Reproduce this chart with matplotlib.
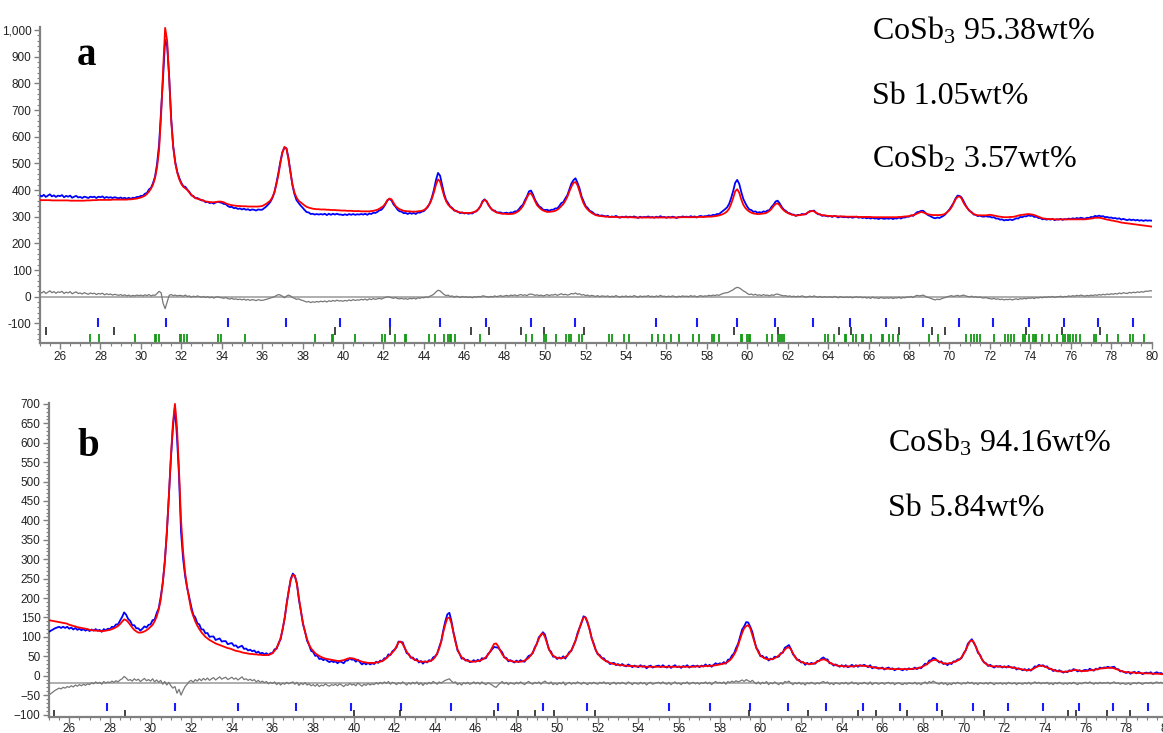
import numpy as np
import matplotlib
matplotlib.use("Agg")
import matplotlib.pyplot as plt
from matplotlib.ticker import MultipleLocator, FuncFormatter

# ---------------- DATA ----------------
# 2-theta grid (deg), 25.0 ... 80.0 in 0.1 steps
two_theta = np.round(np.arange(250, 801) / 10.0, 1)

# Panel a: calculated profile (red)
calc_a = [
 362,362,362,362,362,362,361,361,361,361,
 361,361,361,361,361,360,360,360,360,360,
 360,360,360,361,361,361,362,362,362,363,
 363,363,363,363,363,363,364,364,364,364,
 364,364,364,364,365,365,366,367,368,370,
 372,375,379,385,394,405,420,445,485,550,
 680,850,1008,960,820,660,560,500,465,440,
 423,412,406,400,390,382,375,370,367,365,
 363,360,357,356,355,354,354,355,356,357,
 356,354,350,347,345,343,342,341,340,340,
 339,339,339,338,338,338,338,338,338,339,
 340,344,348,354,360,372,390,420,455,500,
 540,562,555,515,465,420,390,372,360,354,
 348,342,337,334,332,330,329,328,328,327,
 327,327,326,326,325,325,325,324,324,323,
 323,323,322,322,322,321,321,321,321,320,
 320,320,320,320,321,322,324,326,330,335,
 340,350,362,368,365,352,340,333,328,325,
 322,321,320,320,319,319,319,320,321,322,
 325,330,340,350,368,392,420,440,432,405,
 378,358,345,337,330,325,320,318,316,315,
 314,314,314,314,316,318,322,328,340,355,
 363,358,345,332,325,320,316,314,312,311,
 311,310,310,310,311,313,317,322,330,340,
 355,372,386,388,375,358,343,335,328,323,
 320,318,318,319,320,322,326,332,340,348,
 360,375,395,413,427,430,418,395,370,350,
 336,327,320,314,310,306,304,303,302,301,
 300,300,299,299,299,299,298,298,298,298,
 298,298,298,298,297,297,297,297,297,297,
 297,297,297,297,297,297,297,297,297,297,
 297,297,297,297,297,297,297,298,298,298,
 298,298,298,298,298,298,299,299,299,299,
 300,300,300,301,302,303,305,307,310,314,
 320,330,348,370,395,403,390,365,345,333,
 325,319,315,312,311,310,310,311,312,313,
 317,322,330,340,348,350,343,332,324,318,
 314,310,308,306,304,305,306,307,308,311,
 316,319,322,320,315,311,308,306,305,304,
 303,303,302,302,302,301,301,301,301,300,
 300,300,300,300,300,299,299,299,299,299,
 299,299,298,298,298,298,298,298,298,298,
 298,298,298,298,298,299,299,300,301,301,
 302,304,306,308,312,315,318,316,313,310,
 308,307,306,306,306,306,307,308,312,318,
 325,335,350,365,374,376,368,352,340,330,
 322,315,310,307,305,305,305,305,305,306,
 307,306,304,303,301,300,299,298,298,298,
 299,299,300,302,304,306,307,308,309,310,
 309,308,306,303,300,297,294,293,292,291,
 291,291,290,290,290,290,290,290,290,290,
 290,290,290,290,290,290,290,290,291,292,
 293,294,296,296,296,295,293,291,289,288,
 286,285,283,282,280,278,277,276,275,274,
 273,272,271,270,269,268,267,266,265,264,
 263,
]

# Panel a: residual (observed - calculated), grey curve
resid_a = [
 18,14,20,12,17,22,15,19,13,18,
 16,20,12,17,14,19,11,15,18,12,
 14,10,15,12,9,14,11,13,8,12,
 10,13,7,11,8,10,6,9,7,5,
 8,4,7,3,6,2,5,3,6,4,
 6,3,7,4,8,3,6,5,12,20,
 15,-25,-45,-20,5,8,4,6,3,5,
 4,2,6,1,3,-2,2,-1,3,0,
 -2,1,-3,0,-4,-1,-5,-2,0,-3,
 -4,-6,-3,-7,-9,-6,-10,-8,-11,-9,
 -12,-9,-13,-10,-14,-11,-12,-15,-11,-13,
 -14,-12,-10,-8,-5,-3,0,4,8,6,
 2,-4,2,6,3,-3,-6,-10,-8,-12,
 -14,-17,-20,-18,-22,-19,-21,-18,-20,-17,
 -19,-16,-20,-15,-18,-14,-17,-13,-16,-15,
 -17,-14,-16,-12,-15,-11,-14,-12,-13,-10,
 -12,-9,-13,-8,-11,-7,-10,-8,-6,-9,
 -5,-3,0,-2,-4,-6,-3,-7,-8,-6,
 -9,-7,-10,-6,-8,-5,-9,-4,-6,-3,
 -4,-1,-3,2,5,10,18,24,22,15,
 8,4,6,1,3,-2,2,0,-3,1,
 -2,0,-3,-1,-4,0,-2,1,-1,3,
 2,0,-2,1,-1,3,0,2,4,1,
 3,5,2,6,4,7,3,6,8,5,
 7,4,9,10,8,5,7,4,6,3,
 5,8,4,7,6,9,5,8,11,7,
 9,6,8,12,10,14,9,11,6,8,
 4,6,2,5,3,1,4,0,3,2,
 1,3,-1,2,0,4,1,-2,2,0,
 3,-1,2,0,4,1,-2,3,0,2,
 1,4,0,2,-1,3,0,5,1,2,
 -1,2,0,3,1,-2,2,0,3,1,
 2,0,4,1,3,-1,2,4,1,3,
 2,5,3,6,4,7,5,9,12,14,
 15,18,22,26,32,35,33,28,22,18,
 12,8,10,6,9,5,7,4,8,5,
 6,3,7,5,9,10,7,5,3,4,
 1,3,0,2,-1,2,0,3,1,-2,
 0,2,-1,3,0,-2,1,-3,0,-1,
 -2,0,-3,1,-1,-4,0,-2,-3,-1,
 -3,-1,-4,-2,0,-3,-1,-4,-2,-5,
 -3,-6,-2,-5,-4,-7,-3,-5,-6,-4,
 -6,-3,-7,-4,-5,-2,-6,-3,-4,-1,
 -2,1,-3,2,5,3,4,6,2,-2,
 -4,-7,-10,-12,-9,-11,-8,-5,-3,0,
 2,4,1,3,5,2,4,6,3,1,
 -1,2,-2,0,-3,-1,-4,-5,-3,-6,
 -7,-9,-6,-10,-8,-11,-9,-12,-10,-11,
 -9,-12,-10,-8,-11,-7,-9,-6,-8,-5,
 -6,-4,-7,-3,-5,-2,-4,-1,-3,0,
 -2,1,-3,0,-1,2,-2,1,0,3,
 1,4,2,5,3,6,4,2,5,3,
 6,4,7,5,8,6,9,7,10,8,
 11,9,12,10,14,11,15,13,12,16,
 14,17,15,18,16,19,17,21,20,22,
 22,
]

# Panel b: calculated profile (red)
calc_b = [
 143,142,141,140,139,138,137,136,135,134,
 131,130,128,127,125,124,123,122,121,120,
 118,117,117,116,116,115,115,115,116,117,
 118,120,122,125,128,133,139,145,143,138,
 131,124,118,114,111,111,112,114,117,121,
 126,131,140,152,170,195,240,290,370,460,
 564,650,700,640,530,400,320,265,228,198,
 170,154,140,129,120,112,106,100,96,92,
 89,86,83,81,79,77,75,73,71,70,
 68,66,64,63,62,60,59,58,57,56,
 56,55,55,54,54,53,53,53,54,55,
 58,64,72,82,98,120,150,185,220,248,
 259,258,235,200,165,135,112,94,80,70,
 64,58,54,51,48,46,44,43,42,41,
 40,39,38,38,39,40,42,44,45,45,
 44,42,40,38,36,35,34,33,33,33,
 33,34,35,36,38,41,45,50,55,60,
 66,76,86,88,82,72,62,54,48,44,
 41,39,37,36,36,36,36,37,39,42,
 48,58,70,88,112,132,148,150,135,110,
 86,68,56,48,43,40,38,37,36,36,
 37,38,39,41,44,48,54,62,72,82,
 83,76,65,55,48,43,40,38,37,36,
 36,36,36,37,39,42,46,52,60,70,
 82,95,106,109,100,84,68,58,52,48,
 46,45,45,46,48,52,58,66,76,90,
 105,122,138,150,150,138,118,97,80,66,
 57,50,45,41,38,35,33,31,30,29,
 28,27,27,26,26,25,25,25,24,24,
 24,24,24,23,23,23,23,23,23,23,
 23,23,23,23,23,23,23,23,23,23,
 23,23,23,23,23,23,23,23,24,24,
 24,24,24,25,25,25,26,26,27,28,
 29,30,31,33,36,40,46,54,64,78,
 94,110,122,128,130,122,105,88,72,60,
 52,48,45,43,42,42,43,45,48,52,
 56,61,67,72,73,68,58,48,42,38,
 36,34,32,31,30,30,31,33,36,39,
 41,42,41,38,34,31,29,27,26,25,
 25,24,24,24,24,24,24,25,26,26,
 26,25,25,24,23,22,21,20,20,19,
 19,18,18,18,18,17,17,17,17,17,
 17,17,17,17,17,18,18,19,20,22,
 24,27,30,34,38,40,41,39,36,34,
 32,31,31,32,33,35,37,39,42,48,
 56,66,78,88,91,86,74,62,52,42,
 35,30,27,25,24,24,24,24,23,23,
 23,23,22,22,21,20,19,18,17,16,
 15,14,14,15,17,20,23,25,26,25,
 23,21,19,17,15,13,12,11,11,10,
 10,11,12,13,14,15,14,13,12,12,
 12,13,14,14,15,16,17,18,19,19,
 20,20,21,20,19,17,15,13,11,10,
 9,9,8,8,8,7,7,7,6,6,
 6,6,6,5,5,5,5,4,4,4,
 3,
]

# Panel b: residual (observed - calculated)
resid_b = [
 -30,-26,-22,-18,-15,-12,-14,-10,-12,-8,
 -10,-6,-9,-4,-7,-3,-6,-2,-5,-1,
 -3,2,-1,4,0,3,-2,5,1,4,
 2,6,3,7,4,9,12,18,14,8,
 10,6,12,8,11,5,9,13,7,10,
 6,12,4,9,3,8,-2,5,-4,3,
 -6,-12,-8,-25,-15,-30,-18,-8,-2,5,
 8,3,10,6,12,7,13,9,14,8,
 12,15,9,13,17,11,14,16,10,13,
 16,11,14,9,13,17,10,12,8,11,
 7,10,4,8,3,6,2,5,-1,3,
 0,4,-3,2,-4,1,-2,3,-1,2,
 4,-2,3,-5,1,-3,2,-4,-1,-6,
 -3,-7,-2,-8,-4,-6,-1,-5,-7,-3,
 -5,-2,-6,-1,-4,-8,-3,-5,0,-4,
 -2,-6,1,-3,-7,-2,-5,0,-4,-1,
 -3,2,-2,3,-1,4,0,5,-2,3,
 1,-3,2,-1,4,0,-4,2,-2,3,
 -1,4,-3,2,-5,1,-2,3,-1,5,
 2,-2,4,1,5,8,10,12,6,2,
 4,-3,1,-4,2,-1,3,-2,0,4,
 -1,3,-2,4,0,-3,2,-1,-4,-8,
 -10,-4,1,5,-1,3,-3,2,0,-2,
 3,-1,4,0,-3,2,5,1,-2,3,
 0,4,-2,3,6,2,-1,4,-3,1,
 -3,2,-1,4,-4,0,3,-2,2,-1,
 4,1,-2,3,0,-3,2,-1,3,0,
 -2,3,0,4,-1,2,-3,1,3,-2,
 2,-1,3,0,-2,4,1,-3,2,0,
 -2,3,-1,2,-4,1,3,-2,0,2,
 3,-1,4,0,-2,3,-3,1,4,-1,
 1,-3,2,0,4,-2,1,3,-1,2,
 -2,2,0,4,-1,3,-3,2,5,1,
 3,0,4,-2,5,2,6,3,7,4,
 6,9,5,10,7,4,8,3,-1,4,
 -2,3,0,5,-3,2,-1,4,0,-3,
 2,-2,5,3,6,1,-3,2,-1,3,
 -2,1,-4,2,-1,3,0,-2,2,-1,
 3,5,1,4,-2,1,-3,2,0,-2,
 2,-1,3,-2,0,4,-1,2,-3,1,
 -1,3,0,-2,4,-3,1,2,-2,0,
 2,-2,1,3,-1,2,-3,0,2,-1,
 -3,1,-2,2,0,-1,3,-2,1,-3,
 1,4,-1,5,2,6,3,0,-2,3,
 -2,1,-4,0,-3,2,-1,3,0,-2,
 2,-1,4,0,3,-2,1,-3,2,0,
 -1,2,-2,3,0,-3,1,-1,2,-2,
 1,-2,3,0,-1,2,-3,1,0,-2,
 2,-1,3,-2,1,4,0,3,-1,2,
 0,3,-2,1,-3,2,-1,3,0,-2,
 1,-2,2,-1,3,0,-3,1,-1,2,
 3,0,4,1,-2,2,-1,3,0,2,
 1,3,-1,2,4,0,2,-2,1,-1,
 -2,1,-3,0,2,-1,3,0,-2,1,
 2,0,3,-1,2,4,1,3,0,2,
 2,
]

# Reflection positions (2-theta)
refl_cosb3 = [27.88, 31.22, 34.30, 37.17, 39.84, 42.33, 44.78, 47.07, 49.30, 51.47,
              55.50, 57.51, 59.47, 61.37, 63.23, 65.06, 66.88, 68.68, 70.45, 72.17,
              73.92, 75.66, 77.35, 79.06]
refl_sb_a = [25.31, 28.68, 39.58, 42.33, 46.33, 47.20, 48.80, 49.95, 51.92, 59.32,
             61.50, 64.52, 65.15, 67.50, 69.13, 69.80, 73.80, 75.58, 77.45]
refl_cosb2_a = [27.48, 27.92, 29.73, 30.72, 30.77, 30.90, 31.92, 31.98, 32.15, 32.28,
                33.82, 33.98, 35.15, 38.62, 39.44, 39.49, 40.61, 41.93, 42.08, 42.57,
                43.05, 43.13, 44.23, 44.55, 45.02, 45.18, 45.27, 45.33, 45.56, 46.79,
                49.03, 49.35, 49.93, 50.02, 50.55, 51.01, 51.16, 51.26, 51.68, 51.83,
                53.18, 53.33, 53.88, 54.14, 55.27, 55.59, 55.88, 56.23, 56.63, 57.33,
                57.59, 58.24, 58.34, 58.59, 59.70, 59.76, 59.98, 60.07, 60.14, 60.98,
                61.22, 61.54, 61.63, 61.74, 61.81, 63.86, 63.97, 64.27, 64.82, 64.89,
                65.21, 65.36, 65.68, 65.73, 66.12, 66.64, 66.73, 66.99, 67.19, 67.46,
                68.97, 69.44, 70.81, 71.08, 71.20, 71.36, 71.50, 72.18, 72.75, 72.91,
                73.06, 73.19, 73.65, 73.72, 73.92, 74.11, 74.22, 74.27, 74.56, 74.93,
                75.32, 75.63, 75.72, 75.87, 75.94, 76.09, 76.27, 76.48, 77.15, 77.24,
                77.78, 78.36, 78.91, 79.06, 79.63]
refl_sb_b = [25.26, 28.73, 40.00, 42.26, 46.90, 48.09, 48.91, 49.85, 51.88, 59.45,
             62.34, 64.78, 65.70, 67.21, 68.92, 70.98, 75.15, 75.54, 77.04, 78.18]

labels_a = ["CoSb$\\mathregular{_3}$ 95.38wt%", "Sb 1.05wt%", "CoSb$\\mathregular{_2}$ 3.57wt%"]
labels_b = ["CoSb$\\mathregular{_3}$ 94.16wt%", "Sb 5.84wt%"]
resid_offset_b = -20

# ---------------- FIGURE ----------------
W, H = 1163, 733
fig = plt.figure(figsize=(W / 100, H / 100), dpi=100)

def px_rect(left, right, top, bottom):
    return [left / W, 1 - bottom / H, (right - left) / W, (bottom - top) / H]

GREY = "#808080"
TXT = "#222222"

def style_axes(ax, ymaj, ymin_step, comma=False, xpad=2):
    for s in ("top", "right"):
        ax.spines[s].set_visible(False)
    for s in ("left", "bottom"):
        ax.spines[s].set_color(GREY)
        ax.spines[s].set_linewidth(1.6)
    ax.xaxis.set_major_locator(MultipleLocator(2))
    ax.xaxis.set_minor_locator(MultipleLocator(0.5))
    ax.yaxis.set_major_locator(MultipleLocator(ymaj))
    ax.yaxis.set_minor_locator(MultipleLocator(ymin_step))
    ax.tick_params(which="major", length=4, width=1.0, color=GREY,
                   labelsize=8.5, labelcolor=TXT, pad=2)
    ax.tick_params(axis="x", which="major", pad=xpad)
    ax.tick_params(which="minor", length=2.5, width=0.8, color=GREY)
    for lab in ax.get_xticklabels() + ax.get_yticklabels():
        lab.set_fontfamily("Liberation Sans")
    if comma:
        ax.yaxis.set_major_formatter(FuncFormatter(lambda v, p: f"{v:,.0f}"))

calc_a = np.array(calc_a, float)
calc_b = np.array(calc_b, float)
obs_a = calc_a + np.array(resid_a, float)
obs_b = calc_b + np.array(resid_b, float)

# ---- panel a ----
axa = fig.add_axes(px_rect(39.8, 1151.6, 26.8, 342.7))
axa.axhline(0, color="#a8a8a8", lw=1.3, zorder=1)
axa.plot(two_theta, np.array(resid_a, float), color="#777777", lw=0.9, zorder=2)
axa.plot(two_theta, obs_a, color="#0000ff", lw=1.3, zorder=3)
axa.plot(two_theta, calc_a, color="#ff0000", lw=1.3, zorder=4)
axa.vlines(refl_cosb3, -115, -80, colors="#1a1aff", lw=1.5)
axa.vlines(refl_sb_a, -144, -112, colors="#111111", lw=1.1)
axa.vlines(refl_cosb2_a, -172.5, -140, colors="#119911", lw=1.3)
axa.set_xlim(25, 80)
axa.set_ylim(-172.5, 1012)
style_axes(axa, 100, 20, comma=True)

# ---- panel b ----
axb = fig.add_axes(px_rect(48.9, 1167.0, 403.3, 716.7))
axb.axhline(resid_offset_b, color="#a8a8a8", lw=1.3, zorder=1)
axb.plot(two_theta, np.array(resid_b, float) + resid_offset_b, color="#777777", lw=0.9, zorder=2)
axb.plot(two_theta, obs_b, color="#0000ff", lw=1.3, zorder=3)
axb.plot(two_theta, calc_b, color="#ff0000", lw=1.3, zorder=4)
axb.vlines(refl_cosb3, -92, -70, colors="#1a1aff", lw=1.5)
axb.vlines(refl_sb_b, -105.6, -88, colors="#111111", lw=1.1)
axb.set_xlim(25, 80)
axb.set_ylim(-105.6, 701.5)
style_axes(axb, 50, 10, xpad=0.5)

# ---- texts ----
serif = "Liberation Serif"
fig.text(77 / W, 1 - 65 / H, "a", fontsize=28, fontweight="bold", family=serif, va="baseline")
fig.text(77 / W, 1 - 456 / H, "b", fontsize=28, fontweight="bold", family=serif, va="baseline")
for lab, yb in zip(labels_a, [40, 104, 168]):
    fig.text(872 / W, 1 - yb / H, lab, fontsize=23, family=serif, va="baseline")
for lab, yb in zip(labels_b, [451, 516]):
    fig.text(888 / W, 1 - yb / H, lab, fontsize=23, family=serif, va="baseline")

fig.savefig("out.png", dpi=100)
